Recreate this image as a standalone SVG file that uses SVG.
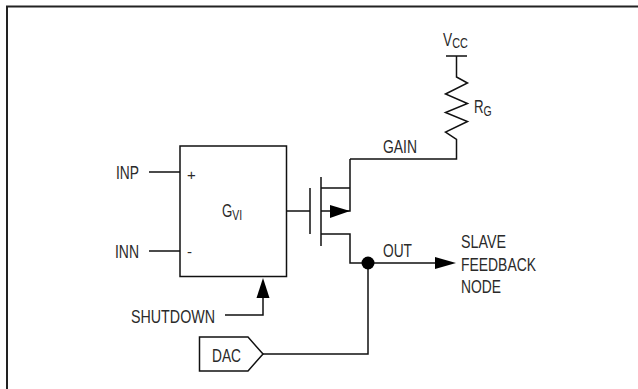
<svg xmlns="http://www.w3.org/2000/svg" width="638" height="389" viewBox="0 0 638 389">
<style>
.l{fill:none;stroke:#111;stroke-width:1.5}
.a{fill:#000}
text{font-family:"Liberation Sans",Arial,sans-serif;font-size:19px;fill:#2a2a2a}
.s{font-size:15px}
</style>
<rect width="638" height="389" fill="#fff"/>
<path d="M7 389V6.500H638" fill="none" stroke="#222" stroke-width="2"/>
<g id="connectors">
<path class="l" d="M149 172H180M149 251H180M225 315H263V296"/>
<path class="a" d="M263 278L269.500 298H256.500Z"/>
<path class="l" d="M287 211H310M263 354H368V263"/>
<path class="l" d="M350 188H321M350 159V211H340M350 159H456.500V139.500L445.500 132 467.500 121.500 445.500 112.500 467.500 103.500 445.500 94 467.500 83 456.500 77V56M446 56H467"/>
<path class="l" d="M321 234H350V263H440"/>
<path class="a" d="M456 263L435 257V269Z"/>
<circle class="a" cx="368" cy="263" r="6.500"/>
</g>
<g id="mosfet">
<path class="l" d="M310 188V234M321 177V246M321 211H332"/>
<path class="a" d="M350 211L330 205V218Z"/>
</g>
<g id="gvi">
<rect class="l" x="180" y="146" width="106.500" height="130.500"/>
<text x="187" y="180" class="s">+</text>
<text x="187" y="257" class="s">-</text>
<text transform="translate(222 217) scale(.7 1)">G<tspan class="s" dy="3">VI</tspan></text>
</g>
<g id="dac">
<path class="l" d="M199.500 337H248L263 354 248 371H199.500Z"/>
<text x="212" y="362" textLength="29" lengthAdjust="spacingAndGlyphs">DAC</text>
</g>
<g id="labels">
<text x="116" y="179" textLength="23" lengthAdjust="spacingAndGlyphs">INP</text>
<text x="115" y="258" textLength="24" lengthAdjust="spacingAndGlyphs">INN</text>
<text x="131" y="323" textLength="84" lengthAdjust="spacingAndGlyphs">SHUTDOWN</text>
<text x="383" y="153" textLength="34" lengthAdjust="spacingAndGlyphs">GAIN</text>
<text x="383" y="257" textLength="29" lengthAdjust="spacingAndGlyphs">OUT</text>
<text x="461" y="248" textLength="45" lengthAdjust="spacingAndGlyphs">SLAVE</text>
<text x="461" y="271" textLength="75" lengthAdjust="spacingAndGlyphs">FEEDBACK</text>
<text x="461" y="293" textLength="40" lengthAdjust="spacingAndGlyphs">NODE</text>
<text transform="translate(443 46) scale(.72 1)">V<tspan class="s" dy="2">CC</tspan></text>
<text transform="translate(474 113) scale(.7 1)">R<tspan class="s" dy="3">G</tspan></text>
</g>
</svg>
